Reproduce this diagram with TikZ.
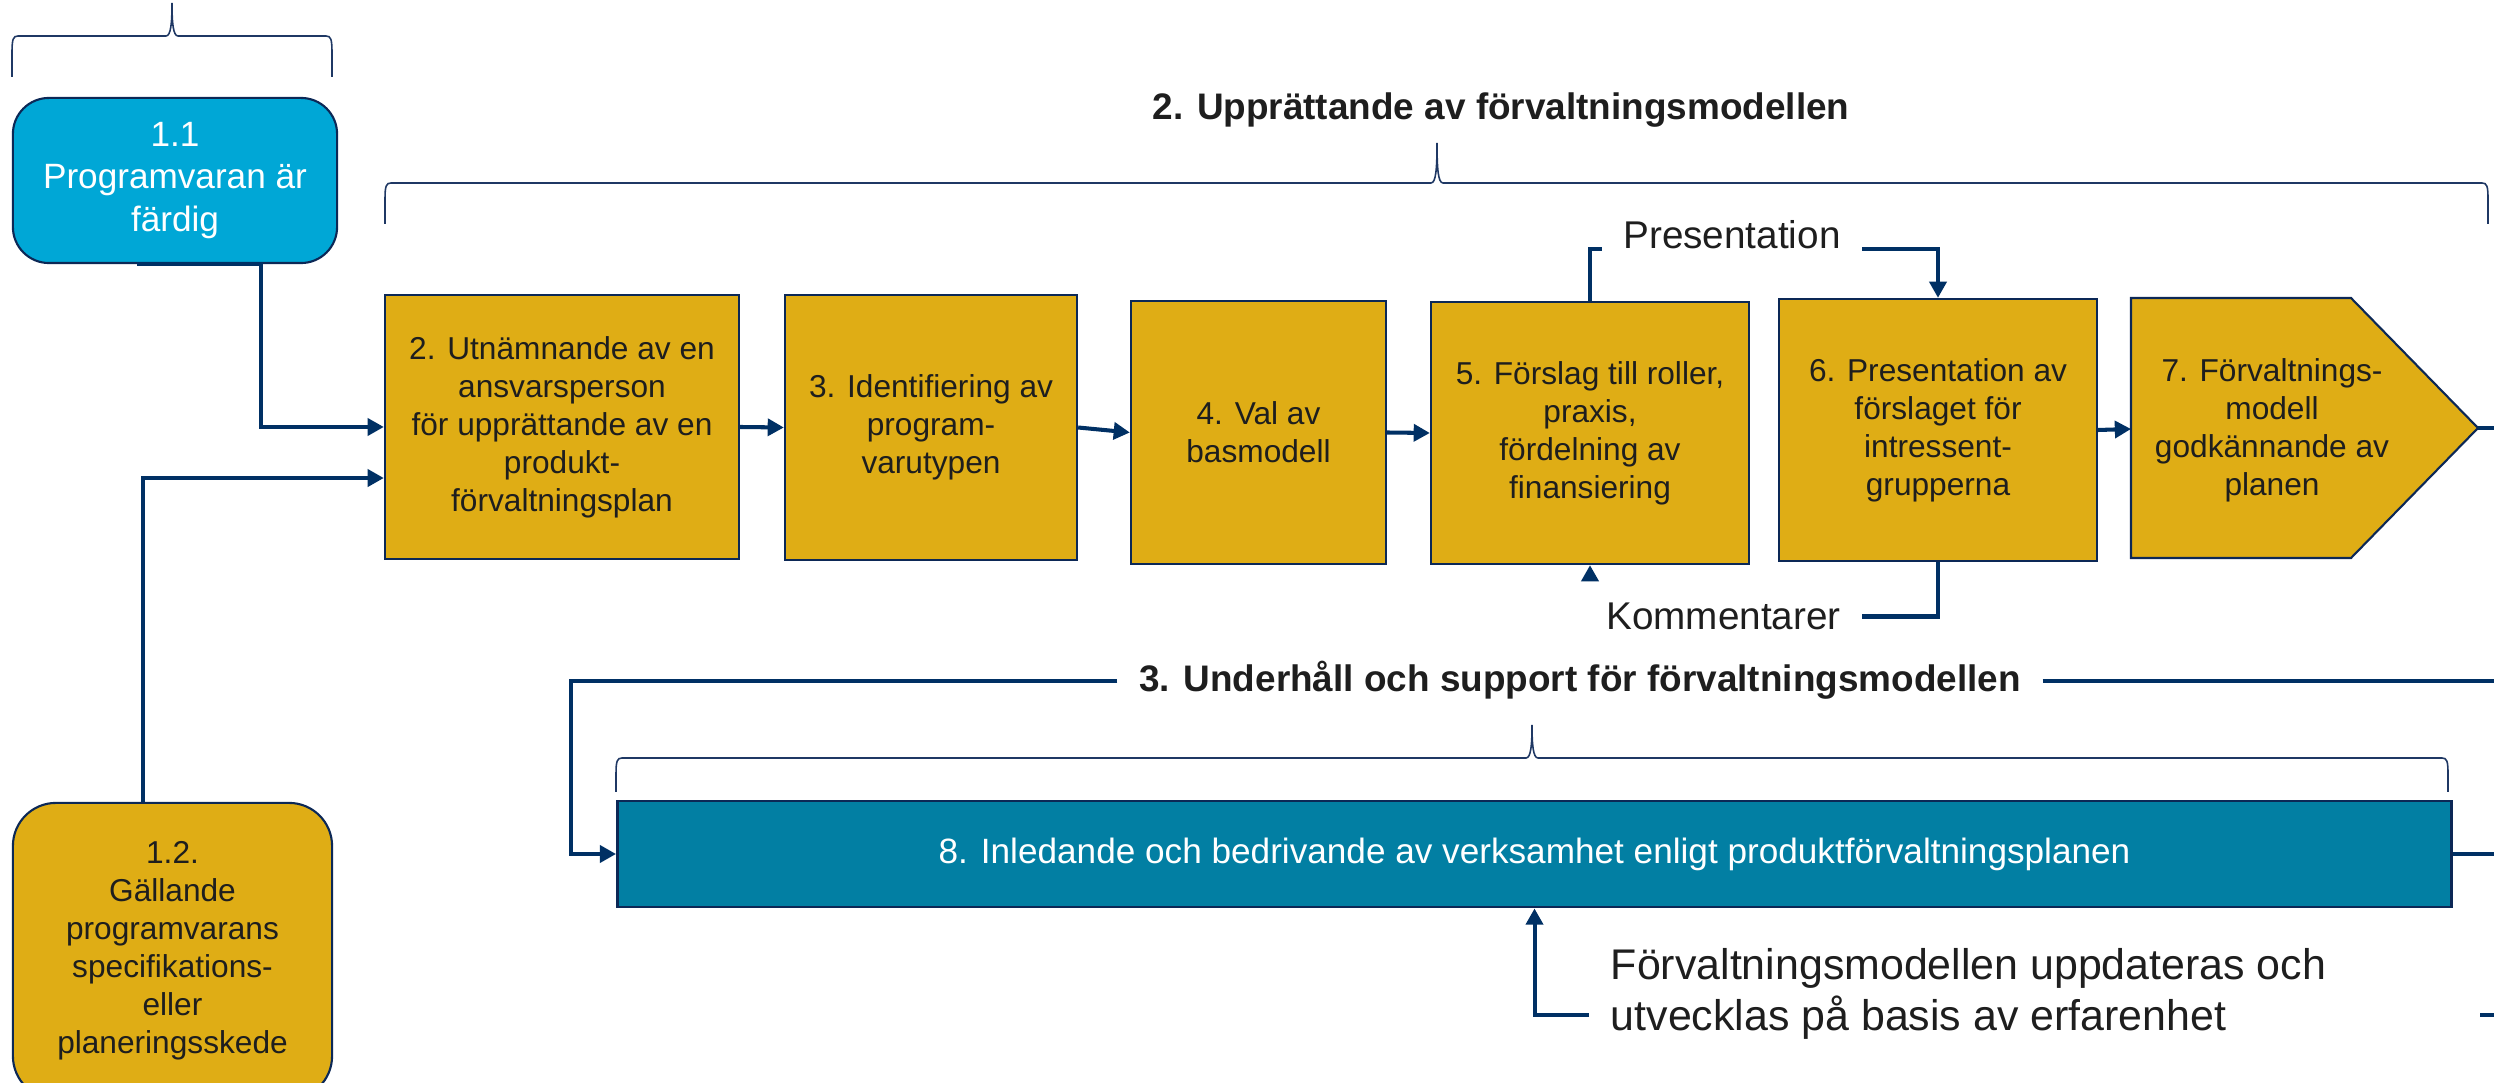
\documentclass[tikz,border=0pt]{standalone}
\usepackage{fontspec}
\setmainfont{Liberation Sans}
\usetikzlibrary{arrows.meta}
\definecolor{gold}{RGB}{223,173,21}
\definecolor{sky}{RGB}{0,167,214}
\definecolor{teal8}{RGB}{2,127,163}
\definecolor{boxline}{RGB}{12,40,86}
\definecolor{flowcol}{RGB}{0,48,100}
\definecolor{bracecol}{RGB}{31,56,100}
\definecolor{ink}{RGB}{30,30,30}
\tikzset{
  stagefill/.style={draw=boxline, line width=0.6pt, fill=gold},
  stage/.style={stagefill, text=ink, align=center, inner sep=0pt, font=\fontsize{9}{10.8}\selectfont},
  srcbox/.style={stage, fill=sky, text=white, rounded corners=0.36cm, font=\fontsize{10}{12}\selectfont},
  conn/.style={draw=flowcol, line width=1.15pt},
  flow/.style={conn, -{Triangle[length=4.6pt,width=4.8pt]}},
  lbl/.style={inner sep=6pt, text=ink, font=\fontsize{11}{13}\selectfont},
  heading/.style={inner sep=6pt, text=ink, font=\bfseries\fontsize{10.5}{12.6}\selectfont},
  curl/.style={draw=bracecol, line width=0.45pt},
}
\begin{document}
\begin{tikzpicture}[x=0.01cm, y=-0.01cm]
        \useasboundingbox (0,0) rectangle (2494,1083);
        % braces
        \draw[curl] (12,77) -- (12,54) .. controls (12,39) and (13,36) .. (18,36) -- (166,36) .. controls (171,36) and (172,22) .. (172,3) .. controls (172,22) and (173,36) .. (178,36) -- (326,36) .. controls (331,36) and (332,39) .. (332,54) -- (332,77);
        \draw[curl] (385,224) -- (385,200) .. controls (385,186) and (386,183) .. (391,183) -- (1431,183) .. controls (1436,183) and (1437,168) .. (1437,143) .. controls (1437,168) and (1438,183) .. (1443,183) -- (2482,183) .. controls (2487,183) and (2488,186) .. (2488,200) -- (2488,224);
        \draw[curl] (616,792) -- (616,775) .. controls (616,761) and (617,758) .. (622,758) -- (1526,758) .. controls (1531,758) and (1532,744) .. (1532,725) .. controls (1532,744) and (1533,758) .. (1538,758) -- (2442,758) .. controls (2447,758) and (2448,761) .. (2448,775) -- (2448,792);
        % headings
        \node[heading, anchor=base] (t2) at (1501,120) {2. Upprättande av förvaltningsmodellen};
        \node[heading, anchor=base] (t3) at (1580,692) {3. Underhåll och support för förvaltningsmodellen};
        % start boxes
        \node[srcbox, minimum width=3.24cm, minimum height=1.65cm] (p11) at (175,180.5) {1.1\\Programvaran är\\färdig};
        \node[srcbox, fill=gold, text=ink, rounded corners=0.43cm, font=\fontsize{9}{10.8}\selectfont, minimum width=3.19cm, minimum height=2.96cm] (p12) at (172.5,951) {1.2.\\Gällande\\programvarans\\specifikations-\\eller\\planeringsskede};
        % stages
        \node[stage, minimum width=3.54cm, minimum height=2.64cm] (b2) at (562,427) {2. Utnämnande av en\\ansvarsperson\\för upprättande av en\\produkt-\\förvaltningsplan};
        \node[stage, minimum width=2.92cm, minimum height=2.65cm] (b3) at (931,427.5) {3. Identifiering av\\program-\\varutypen};
        \node[stage, minimum width=2.55cm, minimum height=2.63cm] (b4) at (1258.5,432.5) {4. Val av\\basmodell};
        \node[stage, minimum width=3.18cm, minimum height=2.62cm] (b5) at (1590,433) {5. Förslag till roller,\\praxis,\\fördelning av\\finansiering};
        \node[stage, minimum width=3.18cm, minimum height=2.62cm] (b6) at (1938,430) {6. Presentation av\\förslaget för\\intressent-\\grupperna};
        \draw[stagefill] (2131,298) -- (2351,298) -- (2478,428) -- (2351,558) -- (2131,558) -- cycle;
        \coordinate (b7w) at (2131,429);
        \coordinate (b7tip) at (2478,428);
        \node[stage, draw=none, fill=none] (b7) at (2272,430) {7. Förvaltnings-\\modell\\godkännande av\\planen};
        \node[stage, fill=teal8, text=white, line width=0.8pt, font=\fontsize{10}{12}\selectfont, minimum width=18.33cm, minimum height=1.06cm] (b8) at (1534.5,854) {8. Inledande och bedrivande av verksamhet enligt produktförvaltningsplanen};
        % side labels
        \node[lbl, anchor=base] (pres) at (1732,249) {Presentation};
        \node[lbl] (kom) at (1723.5,616.5) {Kommentarer};
        \node[lbl, anchor=north west, align=left, font=\fontsize{12.2}{14.5}\selectfont] (upd) at (1589,927) {Förvaltningsmodellen uppdateras och\\utvecklas på basis av erfarenhet};
        % connectors
        \draw[flow] ([xshift=-0.38cm]p11.south) -- ([xshift=0.86cm]p11.south) |- (b2.west);
        \draw[flow] ([xshift=-0.295cm]p12.north) |- ([yshift=-0.51cm]b2.west);
        \draw[flow] (b2.east) -- (b3.west);
        \draw[flow] (b3.east) -- (b4.west);
        \draw[flow] (b4.east) -- (b5.west);
        \draw[flow] (b6.east) -- (b7w);
        \draw[conn] (b7tip) -- ++(30,0);
        \draw[conn] (b5.north) |- (pres.base west);
        \draw[flow] (pres.base east) -| (b6.north);
        \draw[conn] (b6.south) |- (kom.east);
        \draw[flow] (kom.north -| b5.south) -- (b5.south);
        \coordinate (loopL) at (571,680);
        \draw[flow] (t3.west) -- (t3.west -| loopL) |- (b8.west);
        \draw[conn] (t3.east) -- ++(480,0);
        \draw[conn] (b8.east) -- ++(60,0);
        \draw[flow] ([yshift=-0.88cm]upd.north west) -| (b8.south);
        \coordinate (cutB) at (2480,1015);
        \draw[conn] (cutB) -- ++(30,0);
\end{tikzpicture}
\end{document}
